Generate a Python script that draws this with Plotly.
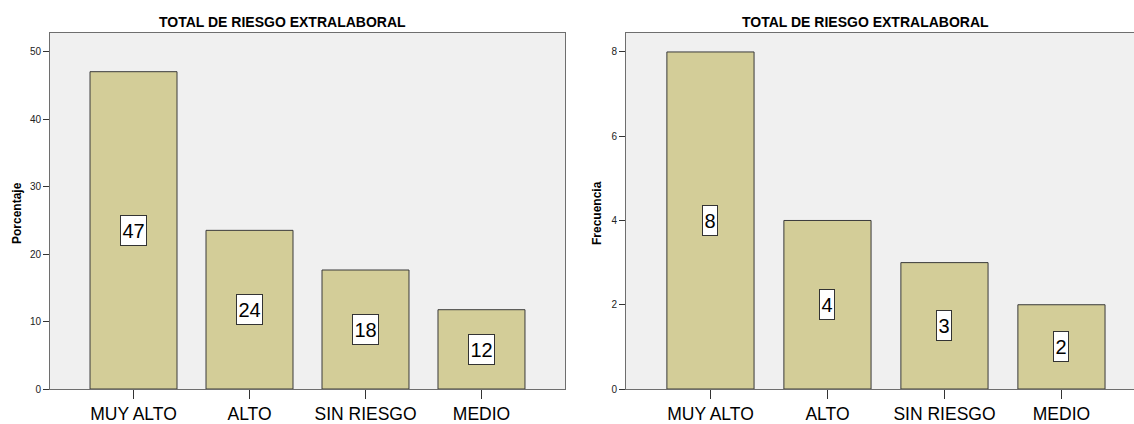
import plotly.graph_objects as go

categories = ["MUY ALTO", "ALTO", "SIN RIESGO", "MEDIO"]
porcentaje = [47.06, 23.53, 17.65, 11.76]
frecuencia = [8, 4, 3, 2]
title_text = "TOTAL DE RIESGO EXTRALABORAL"
y_titles = ["Porcentaje", "Frecuencia"]

W, H = 1134, 424
FONT = "Liberation Sans, Arial, sans-serif"
BAR = "#D3CD98"
BG = "#F0F0F0"

def px(x):
    return x / W

def py(y):
    return (H - y) / H

fig = go.Figure()
fig.add_trace(go.Bar(x=list(range(len(categories))), y=porcentaje, xaxis="x", yaxis="y",
                     marker=dict(color=BAR, line=dict(color="#3a3a3a", width=1)),
                     width=0.75, hoverinfo="skip"))
fig.add_trace(go.Bar(x=list(range(len(categories))), y=frecuencia, xaxis="x2", yaxis="y2",
                     marker=dict(color=BAR, line=dict(color="#3a3a3a", width=1)),
                     width=0.745, hoverinfo="skip"))

ydom = [py(389), py(33)]
axis_common = dict(showgrid=False, zeroline=False, showline=True, linecolor="#6e6e6e", linewidth=1,
                   mirror=True, automargin=False)

fig.update_layout(
    width=W, height=H, margin=dict(l=0, r=0, t=0, b=0, pad=0, autoexpand=False),
    paper_bgcolor="white", plot_bgcolor=BG, showlegend=False,
    font=dict(family=FONT, color="black"),
    xaxis=dict(domain=[px(50), px(565)], range=[-0.72, 3.72], anchor="y",
               tickmode="array", tickvals=list(range(len(categories))), ticktext=categories,
               ticks="outside", ticklen=9, tickcolor="#333", tickfont=dict(size=17.5, color="black"),
               **axis_common),
    yaxis=dict(domain=ydom, range=[0, 52.8], anchor="x", dtick=10, ticks="outside", ticklen=6,
               tickcolor="#333", tickfont=dict(size=10, color="#222"), **axis_common),
    xaxis2=dict(domain=[px(626), 1.0], range=[-0.722, 3.62], anchor="y2",
                tickmode="array", tickvals=list(range(len(categories))), ticktext=categories,
                ticks="outside", ticklen=9, tickcolor="#333", tickfont=dict(size=17.5, color="black"),
                **axis_common),
    yaxis2=dict(domain=ydom, range=[0, 8.45], anchor="x2", dtick=2, ticks="outside", ticklen=6,
                tickcolor="#333", tickfont=dict(size=10, color="#222"), **axis_common),
)

annotations = []
# titles
for cx in (282.5, 865):
    annotations.append(dict(x=px(cx), y=py(22), xref="paper", yref="paper",
                            text="<b>%s</b>" % title_text,
                            showarrow=False, font=dict(size=14, family=FONT, color="black"),
                            xanchor="center", yanchor="middle"))
# y axis titles
for cx, t in zip((17, 597), y_titles):
    annotations.append(dict(x=px(cx), y=py(213), xref="paper", yref="paper", text="<b>%s</b>" % t,
                            textangle=-90, showarrow=False, font=dict(size=12, family=FONT, color="black"),
                            xanchor="center", yanchor="middle"))
# value labels
for xr, yr, vals in (("x", "y", porcentaje), ("x2", "y2", frecuencia)):
    for i, v in enumerate(vals):
        t = str(int(round(v)))
        annotations.append(dict(x=i, y=v / 2, xref=xr, yref=yr, text=t, showarrow=False,
                                font=dict(size=20, family=FONT, color="black"),
                                bgcolor="white", bordercolor="#333", borderwidth=1,
                                width=3 + 11 * len(t), height=29, borderpad=0,
                                xanchor="center", yanchor="middle"))
fig.update_layout(annotations=annotations)

fig.write_html("out.html")
